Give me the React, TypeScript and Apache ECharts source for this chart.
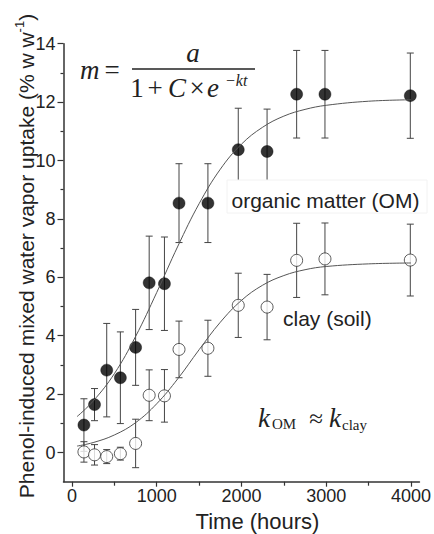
import React, { useEffect, useRef } from 'react';
import * as echarts from 'echarts';

// Measured data (time in hours, uptake in % w/w, symmetric error)
const omTime = [141, 266, 410, 571, 751, 911, 1091, 1263, 1604, 1962, 2302, 2651, 2985, 3992];
const omValue = [0.94, 1.64, 2.82, 2.56, 3.6, 5.81, 5.78, 8.54, 8.54, 10.37, 10.31, 12.27, 12.27, 12.22];
const omError = [0.9, 0.55, 1.6, 1.57, 1.3, 1.6, 1.6, 1.35, 1.35, 1.42, 1.45, 1.5, 1.5, 1.46];

const clayTime = [141, 266, 410, 571, 751, 911, 1091, 1263, 1604, 1962, 2302, 2651, 2985, 3992];
const clayValue = [0.02, -0.08, -0.14, -0.04, 0.31, 1.96, 1.94, 3.53, 3.57, 5.04, 4.98, 6.58, 6.63, 6.59];
const clayError = [0.35, 0.35, 0.24, 0.22, 0.83, 0.87, 0.9, 0.97, 0.96, 1.1, 1.12, 1.27, 1.23, 1.23];

// Fitted curves
const fitTime = [60, 250, 500, 750, 1000, 1250, 1500, 1750, 2000, 2250, 2500, 2750, 3000, 3500, 4000];
const omFit = [1.23, 1.76, 2.7, 3.97, 5.48, 7.07, 8.52, 9.7, 10.56, 11.14, 11.52, 11.75, 11.89, 12.03, 12.08];
const clayFit = [0.22, 0.34, 0.6, 1.02, 1.67, 2.53, 3.52, 4.46, 5.21, 5.73, 6.06, 6.26, 6.37, 6.46, 6.49];

const xTickLabels = [0, 1000, 2000, 3000, 4000];
const xMinorTicks = [500, 1500, 2500, 3500];
const yTickLabels = [0, 2, 4, 6, 8, 10, 12, 14];
const yMinorTicks = [1, 3, 5, 7, 9, 11, 13];

const SANS = '"Liberation Sans", Arial, sans-serif';
const SERIF = '"Liberation Serif", "Times New Roman", serif';
const AXIS_COLOR = '#333';
const BAR_COLOR = '#444';
const TEXT_COLOR = '#222';

export default function App() {
  const ref = useRef<HTMLDivElement>(null);

  useEffect(() => {
    if (!ref.current) return;
    const chart = echarts.init(ref.current, null, { renderer: 'svg' });

    const errRender = (params: any, api: any) => {
      const x = api.value(0);
      const y = api.value(1);
      const e = api.value(2);
      const top = api.coord([x, y + e]);
      const bot = api.coord([x, y - e]);
      const w = 3.5;
      const st = { stroke: BAR_COLOR, lineWidth: 1 };
      return {
        type: 'group',
        children: [
          { type: 'line', shape: { x1: top[0], y1: top[1], x2: bot[0], y2: bot[1] }, style: st },
          { type: 'line', shape: { x1: top[0] - w, y1: top[1], x2: top[0] + w, y2: top[1] }, style: st },
          { type: 'line', shape: { x1: bot[0] - w, y1: bot[1], x2: bot[0] + w, y2: bot[1] }, style: st },
        ],
      };
    };

    const txt = (
      text: string,
      x: number,
      y: number,
      size: number,
      family: string,
      opts: any = {}
    ) => ({
      type: 'text',
      x,
      y,
      z: 10,
      style: {
        text,
        fontSize: size,
        fontFamily: family,
        fontStyle: opts.italic ? 'italic' : 'normal',
        fill: TEXT_COLOR,
        align: opts.align || 'left',
        verticalAlign: 'middle',
      },
    });

    const fmt = (v: number) => String(v);

    chart.setOption({
      animation: false,
      backgroundColor: '#fff',
      grid: { left: 63.5, right: 12, top: 43.7, bottom: 52.3 },
      xAxis: [
        {
          type: 'value',
          min: -100,
          max: 4100,
          position: 'bottom',
          axisLine: { show: true, onZero: false, lineStyle: { color: AXIS_COLOR, width: 1.5 } },
          axisTick: { show: true, customValues: xTickLabels, length: 5, lineStyle: { color: AXIS_COLOR, width: 1.2 } },
          axisLabel: { customValues: xTickLabels, formatter: fmt, fontSize: 18, fontFamily: SANS, color: TEXT_COLOR, margin: 5 },
          splitLine: { show: false },
        },
        {
          type: 'value',
          min: -100,
          max: 4100,
          position: 'bottom',
          axisLine: { show: false, onZero: false },
          axisTick: { show: true, customValues: xMinorTicks, length: 4, lineStyle: { color: AXIS_COLOR, width: 1.2 } },
          axisLabel: { show: false },
          splitLine: { show: false },
        },
      ],
      yAxis: [
        {
          type: 'value',
          min: -1,
          max: 14,
          position: 'left',
          axisLine: { show: true, onZero: false, lineStyle: { color: AXIS_COLOR, width: 1.5 } },
          axisTick: { show: true, customValues: yTickLabels, length: 6, lineStyle: { color: AXIS_COLOR, width: 1.2 } },
          axisLabel: { customValues: yTickLabels, formatter: fmt, fontSize: 18, fontFamily: SANS, color: TEXT_COLOR, margin: 8 },
          splitLine: { show: false },
        },
        {
          type: 'value',
          min: -1,
          max: 14,
          position: 'left',
          axisLine: { show: false, onZero: false },
          axisTick: { show: true, customValues: yMinorTicks, length: 3, lineStyle: { color: AXIS_COLOR, width: 1.2 } },
          axisLabel: { show: false },
          splitLine: { show: false },
        },
      ],
      series: [
        {
          type: 'custom',
          name: 'OM error',
          renderItem: errRender,
          data: omTime.map((t, i) => [t, omValue[i], omError[i]]),
          encode: { x: 0, y: 1 },
          z: 1,
          silent: true,
        },
        {
          type: 'custom',
          name: 'clay error',
          renderItem: errRender,
          data: clayTime.map((t, i) => [t, clayValue[i], clayError[i]]),
          encode: { x: 0, y: 1 },
          z: 1,
          silent: true,
        },
        {
          type: 'scatter',
          name: 'organic matter (OM)',
          data: omTime.map((t, i) => [t, omValue[i]]),
          symbol: 'circle',
          symbolSize: 12,
          itemStyle: { color: '#000', borderColor: '#000', borderWidth: 0.5 },
          z: 2,
        },
        {
          type: 'scatter',
          name: 'clay (soil)',
          data: clayTime.map((t, i) => [t, clayValue[i]]),
          symbol: 'circle',
          symbolSize: 12,
          itemStyle: { color: '#fff', borderColor: '#333', borderWidth: 1 },
          z: 2,
        },
        {
          type: 'line',
          name: 'OM fit',
          data: fitTime.map((t, i) => [t, omFit[i]]),
          showSymbol: false,
          smooth: 0.4,
          lineStyle: { color: '#555', width: 1 },
          z: 3,
        },
        {
          type: 'line',
          name: 'clay fit',
          data: fitTime.map((t, i) => [t, clayFit[i]]),
          showSymbol: false,
          smooth: 0.4,
          lineStyle: { color: '#555', width: 1 },
          z: 3,
        },
      ],
      graphic: [
        // legend-like text box
        {
          type: 'rect',
          shape: { x: 227, y: 180, width: 200, height: 33 },
          style: { fill: '#fff', stroke: '#f2f2f2', lineWidth: 1 },
          z: 5,
        },
        txt('organic matter (OM)', 231.5, 200, 21, SANS),
        txt('clay (soil)', 283, 318, 21, SANS),
        // formula
        txt('m', 80, 70, 27, SERIF, { italic: true }),
        txt('=', 112, 70, 27, SERIF, { align: 'center' }),
        txt('a', 193, 53, 27, SERIF, { italic: true, align: 'center' }),
        {
          type: 'line',
          shape: { x1: 132, y1: 69, x2: 255, y2: 69 },
          style: { stroke: TEXT_COLOR, lineWidth: 1.3 },
          z: 10,
        },
        txt('1', 137, 88, 27, SERIF, { align: 'center' }),
        txt('+', 155, 88, 27, SERIF, { align: 'center' }),
        txt('C', 177, 88, 27, SERIF, { italic: true, align: 'center' }),
        txt('×', 197, 88, 27, SERIF, { align: 'center' }),
        txt('e', 213, 88, 27, SERIF, { italic: true, align: 'center' }),
        txt('−kt', 225, 80, 16, SERIF, { italic: true }),
        // k_OM ≈ k_clay
        txt('k', 258, 418, 27, SERIF, { italic: true }),
        txt('OM', 272, 424, 15, SERIF),
        txt('≈', 316, 418, 25, SERIF, { align: 'center' }),
        txt('k', 329, 418, 27, SERIF, { italic: true }),
        txt('clay', 342, 425, 15, SERIF),
        // axis titles
        {
          type: 'text',
          x: 25,
          y: 256,
          rotation: Math.PI / 2,
          z: 10,
          style: {
            text: '{a|Phenol-induced mixed water vapor uptake (% w w}{s|-1}{a|)}',
            align: 'center',
            verticalAlign: 'middle',
            fill: TEXT_COLOR,
            rich: {
              a: { fontSize: 21, fontFamily: SANS, fill: TEXT_COLOR, lineHeight: 24, verticalAlign: 'bottom' },
              s: { fontSize: 13, fontFamily: SANS, fill: TEXT_COLOR, lineHeight: 24, verticalAlign: 'top' },
            },
          },
        },
        txt('Time (hours)', 257.5, 521, 22, SANS, { align: 'center' }),
      ],
    });

    return () => {
      chart.dispose();
    };
  }, []);

  return (
    <div
      ref={ref}
      style={{ position: 'fixed', left: 0, top: 0, width: 434, height: 534, background: '#fff' }}
    />
  );
}
